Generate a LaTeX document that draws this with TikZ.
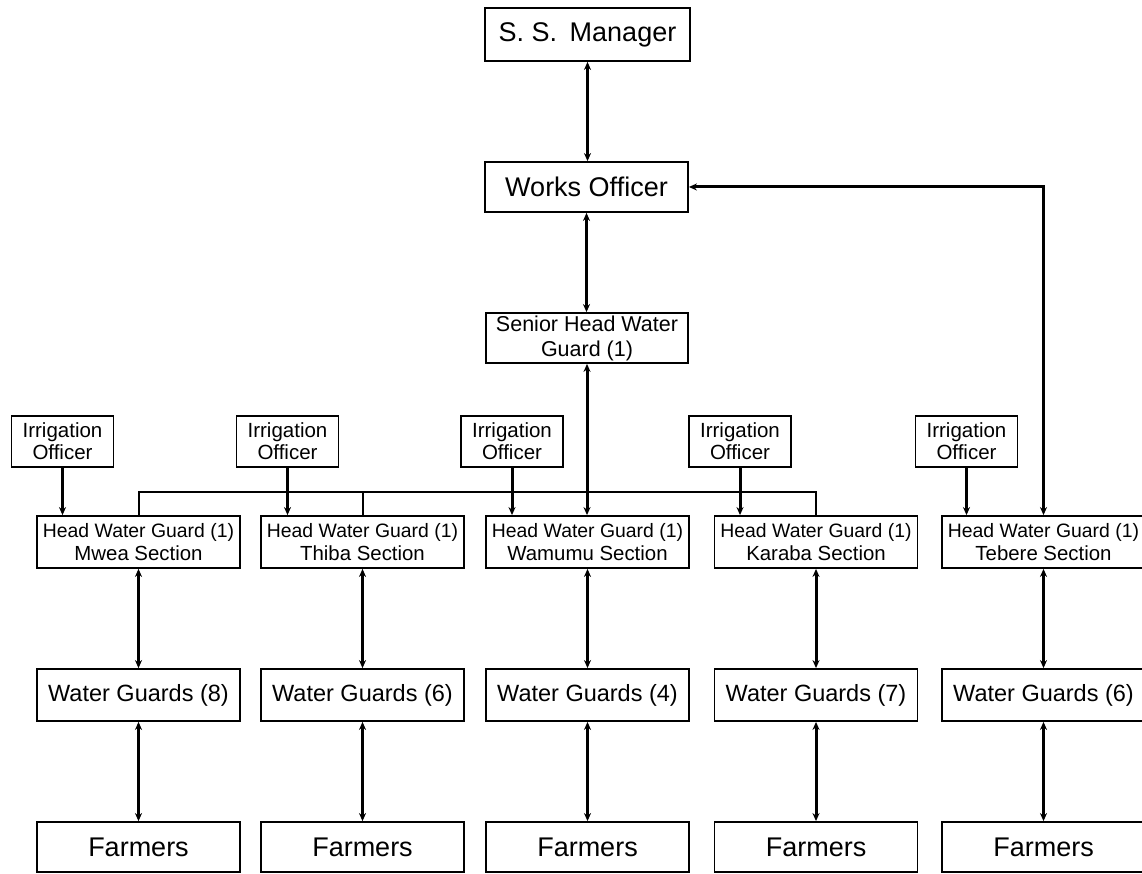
\documentclass[tikz,border=0pt]{standalone}
\usepackage{fontspec}
\setmainfont{Liberation Sans}
\usetikzlibrary{arrows.meta}
\tikzset{
  post/.style={draw=black, line width=1.8pt, inner sep=0pt, align=center},
  wide/.style={post, minimum width=203pt, minimum height=52pt},
  headLab/.style={post, font=\fontsize{27}{30}\selectfont},
  seniorLab/.style={post, font=\fontsize{21.5}{25}\selectfont},
  officerLab/.style={post, minimum width=102pt, minimum height=51pt, font=\fontsize{20.5}{22}\selectfont},
  sectionLab/.style={wide, font=\fontsize{19.4}{23}\selectfont},
  guardLab/.style={wide, font=\fontsize{23.5}{26}\selectfont},
  farmLab/.style={wide, minimum height=50pt, font=\fontsize{27}{30}\selectfont},
  link/.style={line width=3pt, {Stealth[length=8pt,width=7pt]}-{Stealth[length=8pt,width=7pt]}},
  feed/.style={line width=3pt, -{Stealth[length=8pt,width=7pt]}},
  bus/.style={line width=2pt}
}
\newcommand{\secline}[1]{\\{\fontsize{20.4}{23}\selectfont #1 Section}}

\begin{document}
\begin{tikzpicture}[x=1pt,y=1pt]
\useasboundingbox (0,0) rectangle (1142,873);
\clip (0,0) rectangle (1142,873);

% management
\node[headLab, minimum width=205pt, minimum height=53pt] (ssm) at (587.5,838.5) {S. S.\hspace{5pt} Manager};
\node[headLab, minimum width=203pt, minimum height=50pt] (works) at (586.5,686) {Works Officer};
\node[seniorLab, minimum width=202pt, minimum height=50pt] (senior) at (587,535) {Senior Head Water\\Guard (1)};

% irrigation officers
\node[officerLab] (io1) at (62.5,431.5) {Irrigation\\Officer};
\node[officerLab] (io2) at (287.5,431.5) {Irrigation\\Officer};
\node[officerLab] (io3) at (512,431.5) {Irrigation\\Officer};
\node[officerLab] (io4) at (740,431.5) {Irrigation\\Officer};
\node[officerLab] (io5) at (966.5,431.5) {Irrigation\\Officer};

% sections
\node[sectionLab] (mwea) at (138.5,331) {Head Water Guard (1)\secline{Mwea}};
\node[sectionLab] (thiba) at (362.5,331) {Head Water Guard (1)\secline{Thiba}};
\node[sectionLab] (wamumu) at (587.5,331) {Head Water Guard (1)\secline{Wamumu}};
\node[sectionLab] (karaba) at (816,331) {Head Water Guard (1)\secline{Karaba}};
\node[sectionLab] (tebere) at (1043.5,331) {Head Water Guard (1)\secline{Tebere}};

% water guards
\node[guardLab] (wg1) at (138.5,178) {Water Guards (8)};
\node[guardLab] (wg2) at (362.5,178) {Water Guards (6)};
\node[guardLab] (wg3) at (587.5,178) {Water Guards (4)};
\node[guardLab] (wg4) at (816,178) {Water Guards (7)};
\node[guardLab] (wg5) at (1043.5,178) {Water Guards (6)};

% farmers
\node[farmLab] (fa1) at (138.5,26) {Farmers};
\node[farmLab] (fa2) at (362.5,26) {Farmers};
\node[farmLab] (fa3) at (587.5,26) {Farmers};
\node[farmLab] (fa4) at (816,26) {Farmers};
\node[farmLab] (fa5) at (1043.5,26) {Farmers};

% main chain
\draw[link] (ssm.south) -- (ssm.south |- works.north);
\draw[link] (works.south) -- (works.south |- senior.north);
\draw[link] (senior.south) -- (senior.south |- wamumu.north);
\draw[link] (tebere.north) |- (works.east);

% bus to the sections
\coordinate (bus) at (0,381);
\draw[bus] (mwea.north) -- (mwea.north |- bus) -- (karaba.north |- bus) -- (karaba.north);
\draw[bus] (thiba.north) -- (thiba.north |- bus);

% officers down to sections
\draw[feed] (io1.south) -- (io1.south |- mwea.north);
\draw[feed] (io2.south) -- (io2.south |- thiba.north);
\draw[feed] (io3.south) -- (io3.south |- wamumu.north);
\draw[feed] (io4.south) -- (io4.south |- karaba.north);
\draw[feed] (io5.south) -- (io5.south |- tebere.north);

% sections to guards to farmers
\draw[link] (mwea) -- (wg1);
\draw[link] (thiba) -- (wg2);
\draw[link] (wamumu) -- (wg3);
\draw[link] (karaba) -- (wg4);
\draw[link] (tebere) -- (wg5);
\draw[link] (wg1) -- (fa1);
\draw[link] (wg2) -- (fa2);
\draw[link] (wg3) -- (fa3);
\draw[link] (wg4) -- (fa4);
\draw[link] (wg5) -- (fa5);
\end{tikzpicture}
\end{document}
